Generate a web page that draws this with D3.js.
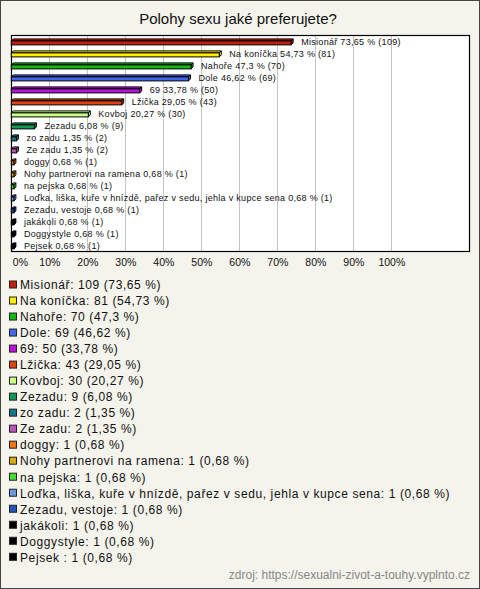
<!DOCTYPE html>
<html>
<head>
<meta charset="utf-8">
<script src="https://cdn.jsdelivr.net/npm/d3@7"></script>
<style>
html,body{margin:0;padding:0;background:#fff;}
svg{display:block;}
</style>
</head>
<body>
<svg id="chart" width="480" height="589"></svg>
<script>
const title = "Polohy sexu jaké preferujete?";
const categories = ["Misionář","Na koníčka","Nahoře","Dole","69","Lžička","Kovboj","Zezadu","zo zadu","Ze zadu","doggy","Nohy partnerovi na ramena","na pejska","Loďka, liška, kuře v hnízdě, pařez v sedu, jehla v kupce sena","Zezadu, vestoje","jakákoli","Doggystyle","Pejsek "];
const counts = [109,81,70,69,50,43,30,9,2,2,1,1,1,1,1,1,1,1];
const percents = [73.65,54.73,47.3,46.62,33.78,29.05,20.27,6.08,1.35,1.35,0.68,0.68,0.68,0.68,0.68,0.68,0.68,0.68];
const colors = ["#c41e0c","#ffee00","#11bb11","#4466ee","#bb11dd","#dd4411","#ccff88","#119955","#117788","#bb55bb","#ee7711","#ddaa11","#44dd33","#6699dd","#2255bb","#000000","#000000","#000000"];
const tickValues = [0,10,20,30,40,50,60,70,80,90,100];
const tickLabels = ["0%","10%","20%","30%","40%","50%","60%","70%","80%","90%","100%"];
const source = "zdroj: https://sexualni-zivot-a-touhy.vyplnto.cz";

const fmt = v => String(v).replace(".", ",");
const data = categories.map((c,i)=>({name:c,count:counts[i],pct:percents[i],color:colors[i]}));

const svg = d3.select("#chart");
const W = 480, H = 589;
svg.append("rect").attr("x",0.5).attr("y",0.5).attr("width",W-1).attr("height",H-1)
  .attr("fill","#f4f3ec").attr("stroke","#444").attr("stroke-width",1);

svg.append("text").attr("x",238).attr("y",24).attr("text-anchor","middle")
  .attr("font-family","Liberation Sans, Arial, sans-serif").attr("font-size",15).attr("fill","#111")
  .text(title);

const plot = {x0:11, x1:470, y0:35, y1:252};
const x = d3.scaleLinear().domain([0,100]).range([11.3,391.3]);
const y = d3.scaleBand().domain(categories).range([plot.y0+0.5, plot.y1-0.5]).padding(0);

svg.append("rect").attr("x",plot.x0+0.5).attr("y",plot.y0+0.5)
  .attr("width",plot.x1-plot.x0-1).attr("height",plot.y1-plot.y0-1)
  .attr("fill","#fff").attr("stroke","none");

// gridlines via axis
const grid = svg.append("g").attr("transform",`translate(0,${plot.y1})`)
  .call(d3.axisBottom(x).tickValues(tickValues.slice(1)).tickSize(-(plot.y1-plot.y0)).tickFormat(""));
grid.select(".domain").remove();
grid.selectAll("line").attr("stroke","#c4c4c4").attr("stroke-width",1)
  .attr("transform","translate(-0.3,0)");

svg.append("rect").attr("x",plot.x0+0.5).attr("y",plot.y0+0.5)
  .attr("width",plot.x1-plot.x0-1).attr("height",plot.y1-plot.y0-1)
  .attr("fill","none").attr("stroke","#000").attr("stroke-width",1.2);

// tick labels via axis
const ax = svg.append("g").attr("transform",`translate(0,${plot.y1+4})`)
  .call(d3.axisBottom(x).tickValues(tickValues).tickSize(0).tickFormat((d,i)=>tickLabels[i]));
ax.select(".domain").remove();
ax.selectAll("text").attr("font-family","Liberation Sans, Arial, sans-serif").attr("font-size",10.5)
  .attr("fill","#111").attr("dy","0.71em");
ax.selectAll(".tick").filter(d=>d===0).select("text").attr("text-anchor","start").attr("x",1);

// 3D bars
const depth = 2;
const bars = svg.append("g");
data.forEach(d=>{
  const cy = y(d.name) + y.bandwidth()/2;
  const xa = x(0), xb = Math.max(x(d.pct), x(0)+2.5);
  const top = cy - 0.6, bot = cy + 3.4;
  const g = bars.append("g");
  g.append("path").attr("d",`M${xa},${top}L${xa+depth},${top-depth}L${xb+depth},${top-depth}L${xb},${top}Z`)
    .attr("fill",d.color).attr("stroke","#000").attr("stroke-width",1);
  g.append("path").attr("d",`M${xb},${top}L${xb+depth},${top-depth}L${xb+depth},${bot-depth}L${xb},${bot}Z`)
    .attr("fill",d.color).attr("stroke","#000").attr("stroke-width",1);
  g.append("rect").attr("x",xa).attr("y",top).attr("width",xb-xa).attr("height",bot-top)
    .attr("fill",d.color).attr("stroke","#000").attr("stroke-width",1);
  g.append("text").attr("x",xb+depth+8).attr("y",cy+3.2)
    .attr("font-family","Liberation Sans, Arial, sans-serif").attr("font-size",9).attr("fill","#111")
    .attr("letter-spacing",0.3)
    .text(`${d.name} ${fmt(d.pct)} % (${d.count})`);
});

// legend
const leg = svg.append("g");
const ly = d3.scaleLinear().domain([0, categories.length-1]).range([289.3, 561.6]);
data.forEach((d,i)=>{
  const base = ly(i);
  leg.append("rect").attr("x",9.5).attr("y",base-8.3).attr("width",7).attr("height",7)
    .attr("fill",d.color).attr("stroke","#222").attr("stroke-width",1);
  leg.append("text").attr("x",20).attr("y",base)
    .attr("font-family","Liberation Sans, Arial, sans-serif").attr("font-size",12).attr("fill","#111")
    .attr("letter-spacing",0.6)
    .text(`${d.name}: ${d.count} (${fmt(d.pct)} %)`);
});

svg.append("text").attr("x",470).attr("y",579).attr("text-anchor","end")
  .attr("font-family","Liberation Sans, Arial, sans-serif").attr("font-size",12).attr("fill","#888")
  .text(source);
</script>
</body>
</html>
